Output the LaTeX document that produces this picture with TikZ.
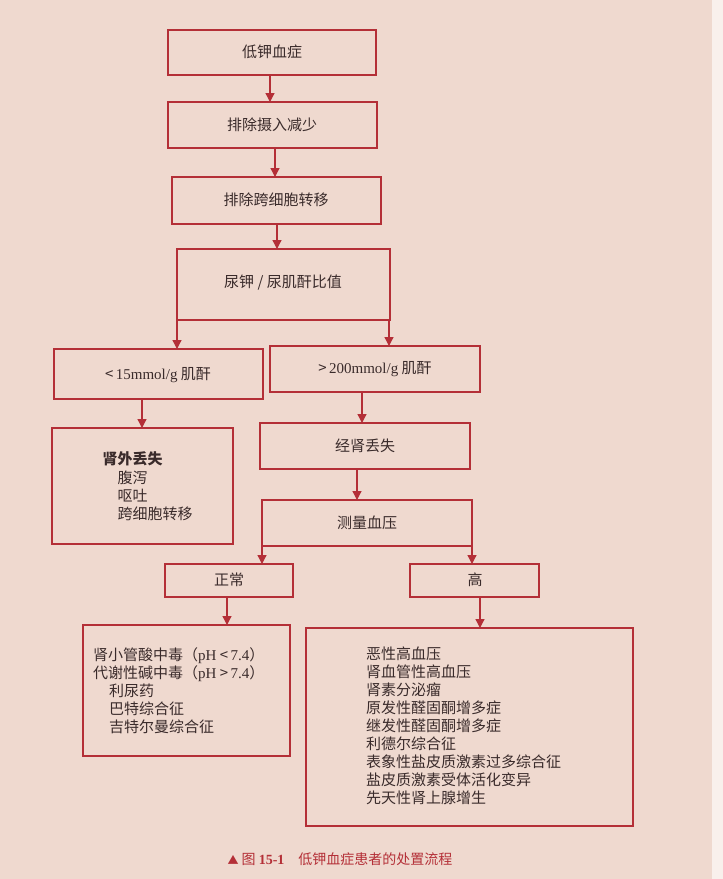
\documentclass[tikz,border=0pt]{standalone}
\usepackage{fontspec}
\setmainfont{Liberation Serif}
\newfontfamily\cjk{Noto Sans CJK SC}
\usetikzlibrary{arrows.meta}
\definecolor{bg}{HTML}{EFD9CF}
\definecolor{ln}{HTML}{B42F37}
\definecolor{tx}{HTML}{3A2B2B}
\tikzset{
 bx/.style={draw=ln,line width=1.3pt},
 ar/.style={draw=ln,line width=1.3pt,-{Triangle[length=9pt,width=9pt]}},
 lb/.style={text=tx,font=\fontsize{15}{18}\selectfont\cjk},
}
\begin{document}
\begin{tikzpicture}[x=1pt,y=-1pt]
\useasboundingbox (0,0) rectangle (723,879);
\fill[bg] (0,0) rectangle (712,879);
\fill[white!60!bg] (712,0) rectangle (723,879);
% boxes
\draw[bx] (168,30) rectangle (376,75); \node[lb] (t1) at (272,52) {低钾血症};
\draw[bx] (168,102) rectangle (377,148); \node[lb] (t2) at (272,125) {排除摄入减少};
\draw[bx] (172,177) rectangle (381,224); \node[lb] (t3) at (276,200) {排除跨细胞转移};
\draw[bx] (177,249) rectangle (390,320); \node[lb] (t4) at (283,283) {尿钾 / 尿肌酐比值};
\draw[bx] (54,349) rectangle (263,399); \node[lb] (t5) at (158,375) {<\,{\rmfamily 15mmol/g} 肌酐};
\draw[bx] (270,346) rectangle (480,392); \node[lb] (t6) at (375,369) {>\,{\rmfamily 200mmol/g} 肌酐};
\draw[bx] (52,428) rectangle (233,544);
\node[lb,anchor=north west,align=left] (t7) at (99,448) {\textbf{肾外丢失}\\[1pt]\hspace{15pt}腹泻\\\hspace{15pt}呕吐\\\hspace{15pt}跨细胞转移};
\draw[bx] (260,423) rectangle (470,469); \node[lb] (t8) at (365,446) {经肾丢失};
\draw[bx] (262,500) rectangle (472,546); \node[lb] (t9) at (367,523) {测量血压};
\draw[bx] (165,564) rectangle (293,597); \node[lb] (t10) at (229,580) {正常};
\draw[bx] (410,564) rectangle (539,597); \node[lb] (t11) at (475,580) {高};
\draw[bx] (83,625) rectangle (290,756);
\node[lb,anchor=north west,align=left,inner sep=0pt] (t12) at (93,647) {肾小管酸中毒（{\rmfamily pH} <\,{\rmfamily 7.4}）\\代谢性碱中毒（{\rmfamily pH} >\,{\rmfamily 7.4}）\\\hspace{16pt}利尿药\\\hspace{16pt}巴特综合征\\\hspace{16pt}吉特尔曼综合征};
\draw[bx] (306,628) rectangle (633,826);
\node[lb,anchor=north west,align=left,inner sep=0pt] (t13) at (366,647) {恶性高血压\\肾血管性高血压\\肾素分泌瘤\\原发性醛固酮增多症\\继发性醛固酮增多症\\利德尔综合征\\表象性盐皮质激素过多综合征\\盐皮质激素受体活化变异\\先天性肾上腺增生};
% arrows
\coordinate (a1) at (270,75); \coordinate (b1) at (270,102); \draw[ar] (a1)--(b1);
\coordinate (a2) at (275,148); \coordinate (b2) at (275,177); \draw[ar] (a2)--(b2);
\coordinate (a3) at (277,224); \coordinate (b3) at (277,249); \draw[ar] (a3)--(b3);
\coordinate (a4) at (177,320); \coordinate (b4) at (177,349); \draw[ar] (a4)--(b4);
\coordinate (a5) at (389,320); \coordinate (b5) at (389,346); \draw[ar] (a5)--(b5);
\coordinate (a6) at (142,399); \coordinate (b6) at (142,428); \draw[ar] (a6)--(b6);
\coordinate (a7) at (362,392); \coordinate (b7) at (362,423); \draw[ar] (a7)--(b7);
\coordinate (a8) at (357,469); \coordinate (b8) at (357,500); \draw[ar] (a8)--(b8);
\coordinate (a9) at (262,546); \coordinate (b9) at (262,564); \draw[ar] (a9)--(b9);
\coordinate (a10) at (472,546); \coordinate (b10) at (472,564); \draw[ar] (a10)--(b10);
\coordinate (a11) at (227,597); \coordinate (b11) at (227,625); \draw[ar] (a11)--(b11);
\coordinate (a12) at (480,597); \coordinate (b12) at (480,628); \draw[ar] (a12)--(b12);
% caption
\node[text=ln,font=\fontsize{14}{16}\selectfont\cjk] (cap) at (340,859) {{\fontsize{11}{12}\selectfont▲} 图 {\rmfamily\bfseries 15-1}\quad 低钾血症患者的处置流程};
\end{tikzpicture}
\end{document}
